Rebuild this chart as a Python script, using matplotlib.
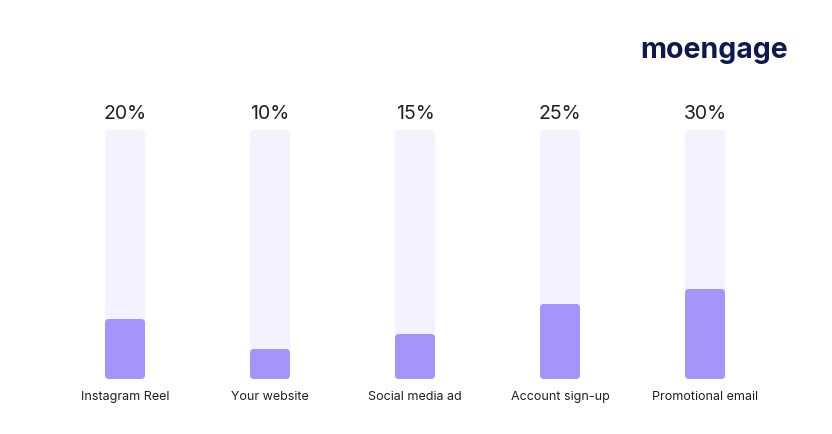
import matplotlib
matplotlib.use("Agg")
import matplotlib.pyplot as plt
from matplotlib.patches import FancyBboxPatch

categories = ["Instagram Reel", "Your website", "Social media ad", "Account sign-up", "Promotional email"]
values = [20, 10, 15, 25, 30]
labels = ["20%", "10%", "15%", "25%", "30%"]

W, H = 832, 435
fig = plt.figure(figsize=(W / 100, H / 100), dpi=100)
fig.patch.set_facecolor("white")

ax_left, ax_right = 52.5, 777.5
ax_top, ax_bottom = 131, 380
ax = fig.add_axes([ax_left / W, 1 - ax_bottom / H, (ax_right - ax_left) / W, (ax_bottom - ax_top) / H])
ymax = 83
ax.set_xlim(-0.5, 4.5)
ax.set_ylim(0, ymax)
ax.axis("off")

bar_w = 40 / 145
px_x = (ax_right - ax_left) / 5.0
px_y = (ax_bottom - ax_top) / ymax
r = 4 / px_x
aspect = px_x / px_y

for i, v in enumerate(values):
    bg = FancyBboxPatch((i - bar_w / 2 + r, r * aspect), bar_w - 2 * r, ymax - 2 * r * aspect,
                        boxstyle=f"round,pad={r},rounding_size={r}", mutation_aspect=aspect,
                        facecolor="#F4F2FE", edgecolor="none")
    ax.add_patch(bg)
    fg = FancyBboxPatch((i - bar_w / 2 + r, r * aspect), bar_w - 2 * r, v - 2 * r * aspect,
                        boxstyle=f"round,pad={r},rounding_size={r}", mutation_aspect=aspect,
                        facecolor="#A594F9", edgecolor="none")
    ax.add_patch(fg)
    ax.text(i, ymax + 5.6, labels[i], ha="center", va="center", fontsize=14,
            family="Inter", color="#1F1F24", clip_on=False)
    ax.text(i, -5.6, categories[i], ha="center", va="center", fontsize=9,
            family="Inter", color="#1F1F24", clip_on=False)

fig.text(714 / W, 1 - 51 / H, "moengage", ha="center", va="center", fontsize=20.5,
         family="Inter", weight="bold", color="#0E1A4F")

fig.savefig("out.png", dpi=100, facecolor="white")
